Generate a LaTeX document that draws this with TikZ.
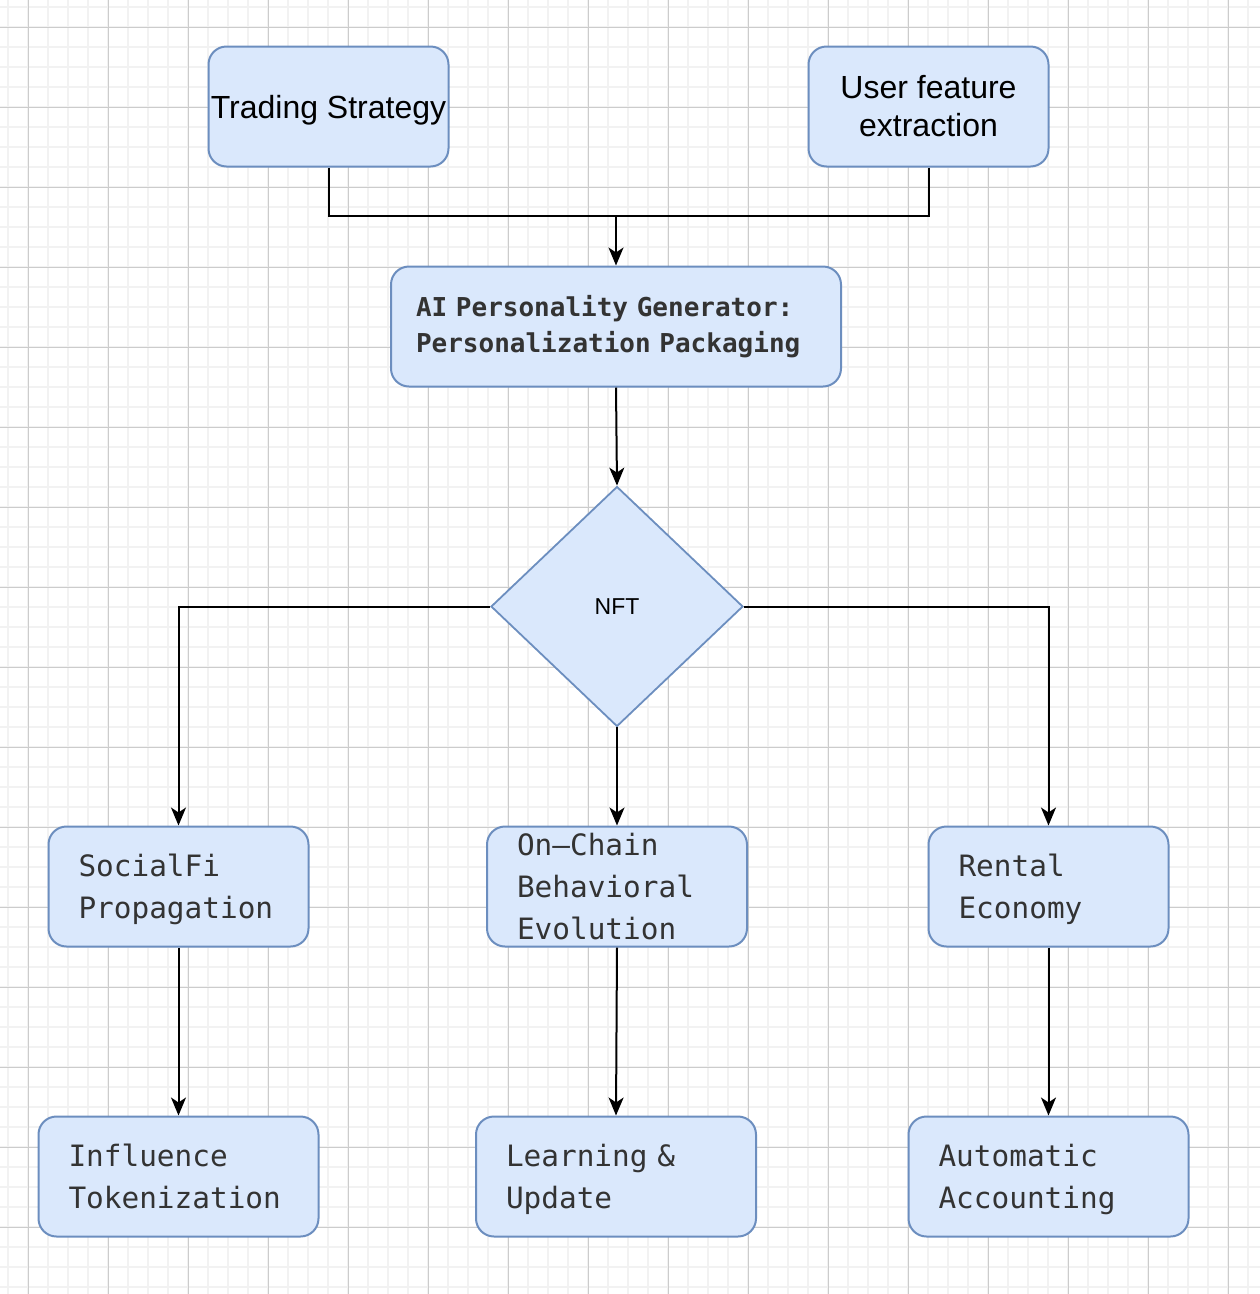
\documentclass[tikz,border=0pt]{standalone}
\usepackage{fontspec}
\setmainfont{Liberation Sans}
\newfontfamily\monofam{DejaVu Sans Mono}
\usetikzlibrary{shapes.geometric,arrows.meta}
\definecolor{bf}{HTML}{DAE8FC}
\definecolor{bd}{HTML}{6C8EBF}
\definecolor{gmin}{HTML}{F2F2F2}
\definecolor{gmaj}{HTML}{CCCCCC}
\definecolor{tx}{HTML}{333333}
\newcommand\mstrut{\rule[-10.25pt]{0pt}{42pt}}
\tikzset{
  box/.style={draw=bd, fill=bf, rounded corners=18pt, line width=2pt,
    minimum height=120pt, inner ysep=0pt},
  sansbox/.style={box, inner xsep=0pt, align=center, text=black},
  monobox/.style={box, inner xsep=30pt, align=left, text=tx,
    font=\monofam\fontsize{29.4}{42}\selectfont},
  dia/.style={draw=bd, fill=bf, line width=1.8pt, shape=diamond, inner sep=0pt,
    minimum width=252pt, minimum height=240pt, font=\fontsize{23}{27}\selectfont},
  arr/.style={line width=2pt, -{Stealth[length=18pt,width=15pt,inset=5pt]}},
  ln/.style={line width=2pt}
}
\begin{document}
\begin{tikzpicture}[x=1pt,y=-1pt]
\useasboundingbox (0,0) rectangle (1260,1294);
\fill[white] (0,0) rectangle (1260,1294);
% grid
\foreach \i in {0,...,62} {
  \draw[gmin, line width=1.6pt] ({8+20*\i},0) -- ({8+20*\i},1294);
}
\foreach \i in {0,...,64} {
  \draw[gmin, line width=1.6pt] (0,{7+20*\i}) -- (1260,{7+20*\i});
}
\foreach \i in {0,...,15} {
  \draw[gmaj, line width=1pt] ({28+80*\i},0) -- ({28+80*\i},1294);
}
\foreach \i in {0,...,16} {
  \draw[gmaj, line width=1pt] (0,{27+80*\i}) -- (1260,{27+80*\i});
}
% nodes
\node[sansbox, minimum width=240pt, text height=23pt, text depth=0pt, font=\fontsize{32}{38}\selectfont] (ts) at (328.5,106.5) {Trading Strategy};
\node[sansbox, minimum width=240pt, font=\fontsize{32}{38}\selectfont] (uf) at (928.5,106.5) {User feature\\extraction};
\node[box, minimum width=450pt, inner xsep=25pt, text width=400pt, align=left, text=tx,
  font=\monofam\bfseries\fontsize{26}{36}\selectfont] (ai) at (616,326.5) {AI Personality Generator:\\Personalization Packaging};
\node[dia] (nft) at (617,606.5) {NFT};
\node[monobox, minimum width=260pt, text width=200pt] (sf) at (178.5,886.5) {\mstrut SocialFi\\Propagation\mstrut};
\node[monobox, minimum width=260pt, text width=200pt] (oc) at (617,886.5) {On–Chain\\Behavioral\\Evolution};
\node[monobox, minimum width=240pt, text width=180pt] (re) at (1048.5,886.5) {\mstrut Rental\\Economy\mstrut};
\node[monobox, minimum width=280pt, text width=220pt] (it) at (178.5,1176.5) {\mstrut Influence\\Tokenization\mstrut};
\node[monobox, minimum width=280pt, text width=220pt] (lu) at (616,1176.5) {\mstrut Learning \&\\Update\mstrut};
\node[monobox, minimum width=280pt, text width=220pt] (aa) at (1048.5,1176.5) {\mstrut Automatic\\Accounting\mstrut};
% connectors
\coordinate (j) at (616,216);
\draw[ln] (ts.south) |- (j);
\draw[ln] (uf.south) |- (j);
\draw[arr] (j) -- (ai.north);
\draw[arr] (ai.south) -- (nft.north);
\draw[arr] (nft.west) -| (sf.north);
\draw[arr] (nft.east) -| (re.north);
\draw[arr] (nft.south) -- (oc.north);
\draw[arr] (sf.south) -- (it.north);
\draw[arr] (oc.south) -- (lu.north);
\draw[arr] (re.south) -- (aa.north);
\end{tikzpicture}
\end{document}
